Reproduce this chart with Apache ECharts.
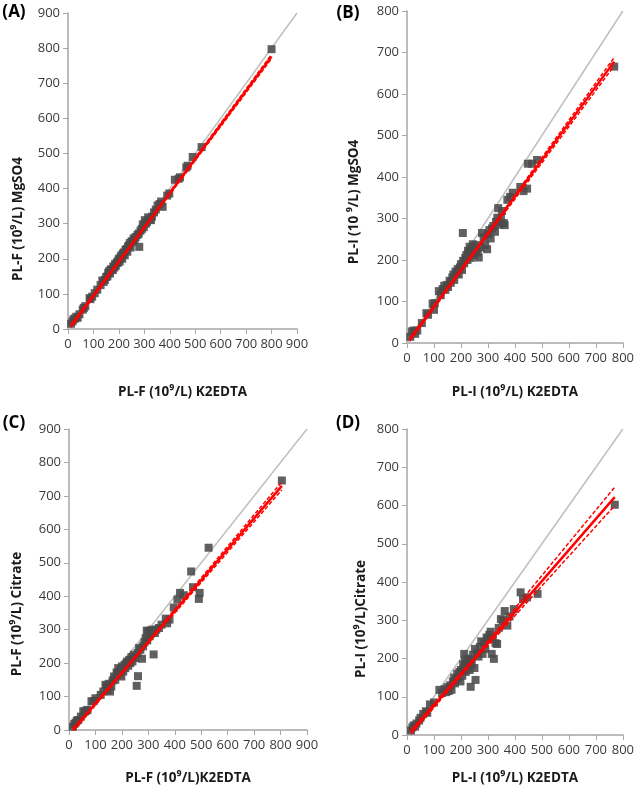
<!DOCTYPE html>
<html><head><meta charset="utf-8">
<script src="https://cdn.jsdelivr.net/npm/echarts@6/dist/echarts.min.js"></script>
<style>html,body{margin:0;padding:0;background:#fff}#c{width:637px;height:786px}</style>
</head><body><div id="c"></div>
<script>
// ---------- data ----------
const ticksA = [0,100,200,300,400,500,600,700,800,900];
const ticksB = [0,100,200,300,400,500,600,700,800];

const ptsA = [[12,15],[18,22],[22,28],[28,30],[33,35],[38,32],[45,42],[58,55],[62,60],[68,65],[85,88],[88,85],[95,92],[105,102],[115,112],[128,125],[135,138],[140,134],[145,140],[150,148],[155,150],[158,160],[162,165],[165,158],[168,170],[172,168],[176,168],[178,178],[182,175],[185,185],[188,180],[192,190],[195,188],[198,195],[200,200],[203,192],[207,205],[210,210],[213,200],[216,215],[220,218],[223,210],[226,225],[230,228],[233,220],[236,235],[240,238],[243,245],[246,232],[250,250],[254,248],[258,258],[262,255],[266,262],[280,234],[273,268],[278,272],[285,280],[290,285],[294,298],[298,290],[302,310],[306,300],[310,305],[315,318],[320,312],[326,310],[330,320],[338,332],[345,340],[352,352],[360,356],[366,363],[372,348],[390,380],[398,386],[420,425],[435,428],[440,432],[465,460],[470,465],[490,490],[525,518],[800,797]];
const fitA = [[12,9],[800,776]];
const upA = [[12,14],[250,243],[800,782]];
const loA = [[12,4],[250,238],[800,770]];
const idA = [[0,0],[900,900]];

const ptsB = [[12,15],[18,28],[25,30],[30,22],[38,30],[55,48],[72,72],[78,68],[95,95],[100,80],[103,96],[118,125],[125,115],[132,130],[138,138],[142,128],[148,140],[152,135],[158,150],[162,145],[168,158],[172,165],[175,152],[180,172],[184,168],[188,178],[192,165],[196,182],[200,190],[204,176],[208,198],[212,192],[216,205],[220,212],[224,200],[226,222],[230,215],[232,232],[236,205],[238,225],[242,218],[244,238],[248,212],[250,228],[254,222],[258,236],[262,218],[266,206],[272,230],[207,265],[278,265],[284,255],[290,236],[297,226],[300,262],[305,272],[310,252],[315,276],[320,282],[326,268],[330,292],[335,302],[338,325],[342,285],[348,300],[352,318],[359,289],[362,284],[372,345],[382,352],[392,362],[420,376],[432,366],[445,372],[448,432],[464,432],[482,441],[768,666]];
const fitB = [[10,8],[768,678]];
const upB = [[10,12],[250,222],[768,688]];
const loB = [[10,4],[250,216],[768,668]];
const idB = [[0,0],[800,800]];

const ptsC = [[15,10],[20,18],[25,22],[30,28],[35,30],[45,40],[54,56],[60,55],[65,58],[70,60],[85,86],[93,86],[100,95],[120,105],[130,115],[138,135],[142,130],[145,120],[150,138],[155,115],[160,130],[165,148],[170,160],[175,150],[180,172],[183,165],[186,185],[190,170],[195,180],[198,160],[200,190],[205,175],[210,195],[213,185],[217,200],[220,205],[224,192],[228,210],[232,200],[236,218],[240,205],[245,225],[250,215],[261,161],[256,132],[276,213],[260,230],[265,245],[270,240],[280,250],[285,262],[290,275],[294,297],[296,268],[300,295],[305,280],[307,297],[310,288],[320,226],[315,300],[325,290],[330,300],[340,305],[350,315],[366,333],[371,319],[380,330],[396,366],[410,390],[420,410],[434,403],[462,474],[469,427],[494,410],[491,392],[528,545],[805,746]];
const fitC = [[15,0],[805,730]];
const upC = [[15,5],[250,220],[805,742]];
const loC = [[15,-5],[250,214],[805,718]];
const idC = [[0,0],[900,900]];

const ptsD = [[15,12],[20,20],[25,25],[30,22],[35,30],[45,38],[50,45],[60,55],[70,62],[75,58],[85,80],[100,85],[120,118],[130,110],[140,120],[145,112],[150,125],[155,115],[160,130],[165,118],[170,140],[175,150],[178,135],[182,145],[186,160],[190,150],[194,165],[198,140],[200,170],[212,212],[205,155],[208,185],[212,175],[215,195],[218,165],[222,190],[225,180],[228,200],[232,170],[235,195],[236,126],[240,185],[245,210],[250,175],[254,144],[252,225],[260,215],[265,205],[270,230],[275,245],[280,212],[285,240],[290,225],[295,255],[300,250],[305,262],[310,270],[314,212],[318,255],[322,199],[328,240],[334,238],[340,280],[348,303],[355,300],[362,324],[372,286],[380,310],[396,329],[421,373],[430,355],[445,360],[484,369],[770,602]];
const fitD = [[15,8],[770,622]];
const upD = [[15,14],[250,203],[770,648]];
const loD = [[15,2],[250,195],[770,600]];
const idD = [[0,0],[800,800]];

const xNames = ['PL-F (10⁹/L) K2EDTA','PL-I (10⁹/L) K2EDTA','PL-F (10⁹/L)K2EDTA','PL-I (10⁹/L) K2EDTA'];
const yNames = ['PL-F (10⁹/L) MgSO4','PL-I (10 ⁹/L) MgSO4','PL-F (10⁹/L) Citrate','PL-I (10⁹/L)Citrate'];
const panelLabels = ['(A)','(B)','(C)','(D)'];

// ---------- layout ----------
const FONT = 'Open Sans';
const layout = [
  {grid:{left:68,top:13,width:229,height:316}, ticks:ticksA, pts:ptsA, fit:fitA, up:upA, lo:loA, id:idA, xGap:56, yT:[18,219], lab:[14,12]},
  {grid:{left:407,top:11,width:218,height:332}, ticks:ticksB, pts:ptsB, fit:fitB, up:upB, lo:loB, id:idB, xGap:42, yT:[354,202], lab:[348,13]},
  {grid:{left:69,top:429,width:238,height:305}, ticks:ticksA, pts:ptsC, fit:fitC, up:upC, lo:loC, id:idC, xGap:41, yT:[17,614], lab:[14,423]},
  {grid:{left:407,top:429,width:218,height:310}, ticks:ticksB, pts:ptsD, fit:fitD, up:upD, lo:loD, id:idD, xGap:36, yT:[361,619], lab:[348,423]}
];

const grids=[], xAxes=[], yAxes=[], series=[], graphics=[];
const axisCommon = {
  axisLine:{show:true, lineStyle:{color:'#a6a6a6', width:1.5}},
  axisTick:{show:true, inside:false, length:5, lineStyle:{color:'#a6a6a6', width:1}},
  splitLine:{show:false},
  axisLabel:{color:'#3a3a3a', fontFamily:FONT, fontSize:13}
};
layout.forEach((p,i)=>{
  const mx = p.ticks[p.ticks.length-1];
  grids.push(Object.assign({containLabel:false}, p.grid));
  xAxes.push(Object.assign({}, axisCommon, {
    gridIndex:i, type:'value', min:0, max:mx, interval:100,
    axisLabel:Object.assign({}, axisCommon.axisLabel, {margin:9}),
    name:xNames[i], nameLocation:'middle', nameGap:p.xGap,
    nameTextStyle:{fontFamily:FONT, fontWeight:'bold', fontSize:13.5, color:'#1a1a1a'}
  }));
  yAxes.push(Object.assign({}, axisCommon, {
    gridIndex:i, type:'value', min:0, max:mx, interval:100,
    axisLabel:Object.assign({}, axisCommon.axisLabel, {margin:8})
  }));
  series.push({type:'line', xAxisIndex:i, yAxisIndex:i, data:p.id, showSymbol:false, symbol:'none', silent:true, z:1,
    lineStyle:{color:'#bfbfbf', width:1.5}});
  series.push({type:'scatter', xAxisIndex:i, yAxisIndex:i, data:p.pts, symbol:'rect', symbolSize:8, z:2,
    itemStyle:{color:'#4a4a4a', opacity:0.88}});
  series.push({type:'line', xAxisIndex:i, yAxisIndex:i, data:p.fit, symbol:'none', z:3,
    lineStyle:{color:'#ff0000', width:2.5}});
  series.push({type:'line', xAxisIndex:i, yAxisIndex:i, data:p.up, symbol:'none', z:3,
    lineStyle:{color:'#ff0000', width:1.5, type:[4,2]}});
  series.push({type:'line', xAxisIndex:i, yAxisIndex:i, data:p.lo, symbol:'none', z:3,
    lineStyle:{color:'#ff0000', width:1.5, type:[4,2]}});
  graphics.push({type:'text', x:p.yT[0], y:p.yT[1], rotation:Math.PI/2,
    style:{text:yNames[i], fontFamily:FONT, fontWeight:'bold', fontSize:13.5, fill:'#1a1a1a', align:'center', verticalAlign:'middle'}});
  graphics.push({type:'text', x:p.lab[0], y:p.lab[1],
    style:{text:panelLabels[i], fontFamily:FONT, fontWeight:'bold', fontSize:17, fill:'#000', align:'center', verticalAlign:'middle'}});
});

const chart = echarts.init(document.getElementById('c'), null, {renderer:'canvas'});
chart.setOption({
  animation:false, backgroundColor:'#fff',
  grid:grids, xAxis:xAxes, yAxis:yAxes, series:series, graphic:graphics
});
</script></body></html>
